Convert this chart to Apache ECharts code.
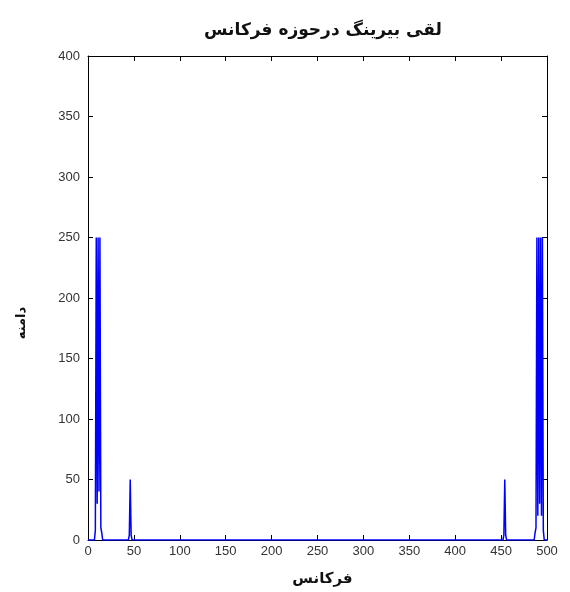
<!DOCTYPE html>
<html>
<head>
<meta charset="utf-8">
<script src="https://cdn.jsdelivr.net/npm/echarts@6/dist/echarts.min.js"></script>
<style>html,body{margin:0;padding:0;background:#fff;}#c{width:570px;height:592px;}</style>
</head>
<body>
<div id="c"></div>
<script>
// Data
var titleText = 'لقی بیرینگ درحوزه فرکانس';
var xName = 'فرکانس';
var yName = 'دامنه';
var xTicks = [0, 50, 100, 150, 200, 250, 300, 350, 400, 450, 500];
var yTicks = [0, 50, 100, 150, 200, 250, 300, 350, 400];
// spectrum samples (frequency, amplitude)
var freq = [0, 7, 8, 9, 10, 11, 12, 13, 14, 15, 16, 44, 45, 46, 47, 48, 452, 453, 454, 455, 456, 486, 487, 488, 489, 490, 491, 492, 493, 494, 495, 496, 497, 500];
var amp  = [0, 0, 8, 250, 30, 250, 40, 250, 10, 6, 0, 0, 4, 50, 4, 0, 0, 4, 50, 4, 0, 0, 6, 10, 250, 20, 250, 30, 250, 20, 250, 8, 0, 0];

var data = freq.map(function (f, i) { return [f, amp[i]]; });
var font = 'Liberation Sans, Arial, DejaVu Sans, sans-serif';
var chart = echarts.init(document.getElementById('c'));
var axisCommon = {
  type: 'value',
  axisLine: { show: true, onZero: false, lineStyle: { color: '#000', width: 1 } },
  axisTick: { show: true, inside: true, length: 5, lineStyle: { color: '#000' } },
  splitLine: { show: false }
};
chart.setOption({
  animation: false,
  backgroundColor: '#fff',
  title: {
    text: titleText,
    left: 318, top: 17, textAlign: 'center',
    textStyle: { fontFamily: 'DejaVu Sans, sans-serif', fontSize: 17, fontWeight: 'bold', color: '#111' }
  },
  graphic: [{
    type: 'text',
    x: 22, y: 323,
    rotation: Math.PI / 2,
    style: {
      text: yName,
      font: 'bold 13px DejaVu Sans, sans-serif',
      fill: '#111',
      textAlign: 'center',
      textVerticalAlign: 'middle'
    }
  }],
  grid: { left: 88, right: 23, top: 56, bottom: 51 },
  xAxis: [
    Object.assign({}, axisCommon, {
      min: 0, max: 500, interval: 50, position: 'bottom',
      name: xName, nameLocation: 'middle', nameGap: 32,
      nameTextStyle: { fontFamily: 'DejaVu Sans, sans-serif', fontSize: 15, fontWeight: 'bold', color: '#111', padding: [0, 0, 0, 10] },
      axisLabel: { fontFamily: font, fontSize: 13, color: '#333', margin: 5 }
    }),
    Object.assign({}, axisCommon, {
      min: 0, max: 500, interval: 50, position: 'top', axisLabel: { show: false }
    })
  ],
  yAxis: [
    Object.assign({}, axisCommon, {
      min: 0, max: 400, interval: 50, position: 'left',
      axisLabel: { fontFamily: font, fontSize: 13, color: '#333', margin: 8 }
    }),
    Object.assign({}, axisCommon, {
      min: 0, max: 400, interval: 50, position: 'right', axisLabel: { show: false }
    })
  ],
  series: [{
    type: 'line',
    data: data,
    showSymbol: false,
    symbol: 'none',
    lineStyle: { color: '#0000ff', width: 1.5 },
    z: 1
  }]
});
</script>
</body>
</html>
